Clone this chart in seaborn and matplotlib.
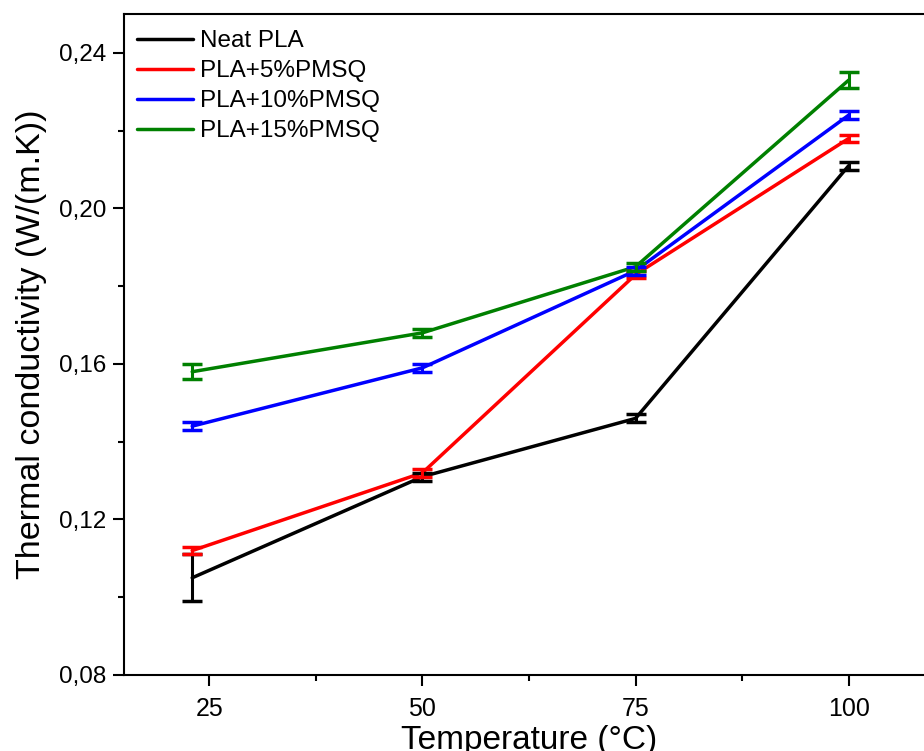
import matplotlib
matplotlib.use("Agg")
import matplotlib.pyplot as plt
import seaborn as sns
import pandas as pd
from matplotlib.ticker import MultipleLocator, FuncFormatter

temperature = [23, 50, 75, 100]
series_names = ["Neat PLA", "PLA+5%PMSQ", "PLA+10%PMSQ", "PLA+15%PMSQ"]
neat_pla = [0.105, 0.131, 0.146, 0.211]
pla_5 = [0.112, 0.132, 0.183, 0.218]
pla_10 = [0.144, 0.159, 0.184, 0.224]
pla_15 = [0.158, 0.168, 0.185, 0.233]
err_neat = [0.006, 0.001, 0.001, 0.001]
err_5 = [0.001, 0.001, 0.001, 0.001]
err_10 = [0.001, 0.001, 0.001, 0.001]
err_15 = [0.002, 0.001, 0.001, 0.002]
colors = ["#000000", "#ff0000", "#0000ff", "#008000"]

values = [neat_pla, pla_5, pla_10, pla_15]
errors = [err_neat, err_5, err_10, err_15]

rows = []
for name, vals, errs in zip(series_names, values, errors):
    for t, v, e in zip(temperature, vals, errs):
        rows.append({"Temperature": t, "k": v, "err": e, "Sample": name})
df = pd.DataFrame(rows)

sns.set_style("ticks")
plt.rcParams['font.family'] = ['Liberation Sans', 'DejaVu Sans']
plt.rcParams['text.color'] = 'black'
plt.rcParams['axes.labelcolor'] = 'black'

fig = plt.figure(figsize=(9.24, 7.51), dpi=100)
ax = fig.add_axes([124/924, 1 - 675/751, (934 - 124)/924, (675 - 14)/751])

sns.lineplot(data=df, x="Temperature", y="k", hue="Sample", hue_order=series_names,
             palette=colors, linewidth=2.5, ax=ax, legend=True, errorbar=None)

for name, c in zip(series_names, colors):
    sub = df[df["Sample"] == name]
    ax.errorbar(sub["Temperature"], sub["k"], yerr=sub["err"], fmt="none",
                ecolor=c, elinewidth=2.2, capsize=7, capthick=2.5)

ax.set_xlim(15, 110)
ax.set_ylim(0.08, 0.25)
ax.xaxis.set_major_locator(MultipleLocator(25))
ax.xaxis.set_minor_locator(MultipleLocator(12.5))
ax.yaxis.set_major_locator(MultipleLocator(0.04))
ax.yaxis.set_minor_locator(MultipleLocator(0.02))
ax.yaxis.set_major_formatter(FuncFormatter(lambda v, p: f"{v:.2f}".replace(".", ",")))
ax.xaxis.set_major_formatter(FuncFormatter(lambda v, p: f"{v:.0f}"))

for s in ax.spines.values():
    s.set_linewidth(1.5)
    s.set_color("black")
ax.tick_params(axis="both", which="major", direction="out", length=8, width=1.5,
               colors="black")
ax.tick_params(axis="both", which="minor", direction="out", length=4.5, width=1.5,
               colors="black")
ax.tick_params(axis="x", which="major", pad=7.5, labelsize=18)
ax.tick_params(axis="y", which="major", pad=5, labelsize=17.5)

ax.set_xlabel("Temperature (°C)", fontsize=24, labelpad=3, color="black")
ax.set_ylabel("Thermal conductivity (W/(m.K))", fontsize=24.5, labelpad=8, color="black")

leg = ax.legend(loc="upper left", frameon=False, fontsize=17.5, handlelength=2.3,
                handletextpad=0.3, labelspacing=0.33, borderaxespad=0.0,
                bbox_to_anchor=(0.004, 0.99))
for line in leg.get_lines():
    line.set_linewidth(2.5)
for t in leg.get_texts():
    t.set_color("black")

fig.savefig("out.png", dpi=100)
